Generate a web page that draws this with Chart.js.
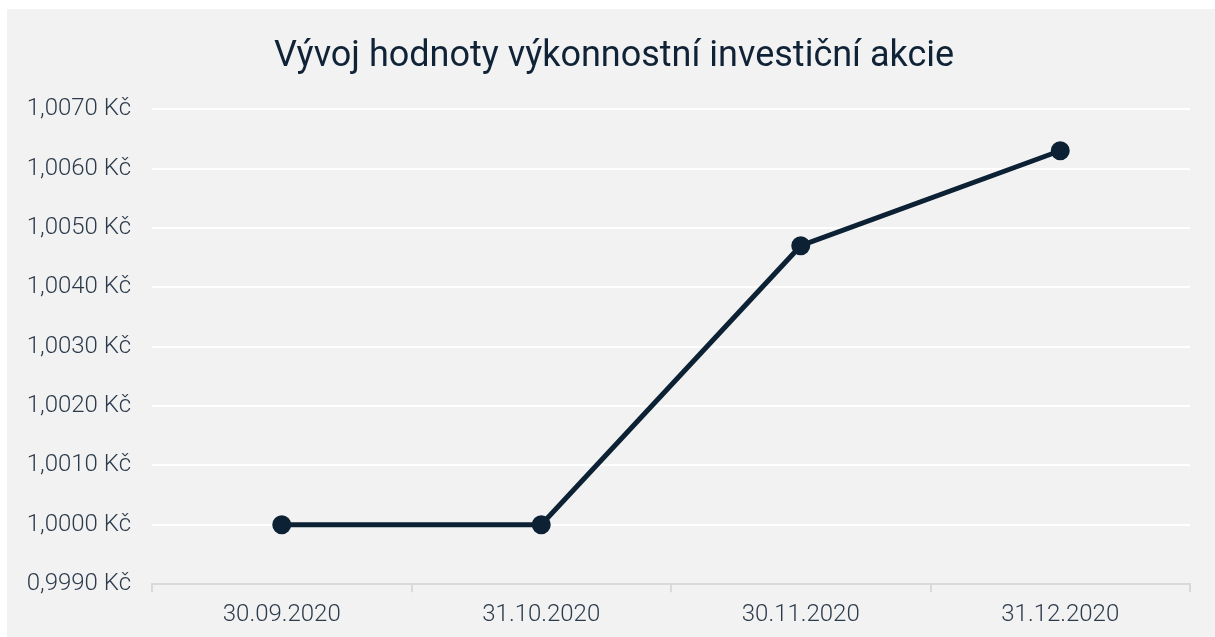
<!DOCTYPE html>
<html>
<head>
<meta charset="utf-8">
<script src="https://cdn.jsdelivr.net/npm/chart.js@4"></script>
<style>
  html, body { margin: 0; padding: 0; background: #ffffff; }
  #box { position: absolute; left: 7px; top: 9px; width: 1208px; height: 628px; background: #f2f2f2; }
</style>
</head>
<body>
<div id="box"><canvas id="akcie-chart"></canvas></div>
<script>
// Data grafu
const dates = ["30.09.2020", "31.10.2020", "30.11.2020", "31.12.2020"];
const values = [1.0000, 1.0000, 1.0047, 1.0063];
const yMin = 0.999;
const yMax = 1.007;
const yStep = 0.001;

const textColor = "#2c3b4b";
const lineColor = "#0d2135";

var ctx = document.getElementById("akcie-chart");

new Chart(ctx, {
  type: "line",
  data: {
    labels: dates,
    datasets: [{
      label: "Hodnota akcie",
      data: values,
      borderColor: lineColor,
      backgroundColor: lineColor,
      borderWidth: 5,
      pointRadius: 7,
      pointHoverRadius: 7,
      tension: 0,
      fill: false
    }]
  },
  options: {
    responsive: true,
    maintainAspectRatio: false,
    animation: false,
    layout: { padding: { left: 6, right: 0, top: 0, bottom: 0 } },
    plugins: {
      legend: { display: false },
      tooltip: { enabled: false },
      title: {
        display: true,
        text: "Vývoj hodnoty výkonnostní investiční akcie",
        color: "#0f2236",
        font: { family: "Roboto", size: 36, weight: "normal" },
        padding: { top: 26, bottom: 31 }
      }
    },
    scales: {
      x: {
        offset: true,
        grid: {
          offset: true,
          drawOnChartArea: false,
          drawTicks: true,
          tickLength: 8,
          color: "#d9d9d9",
          lineWidth: 2
        },
        border: { display: true, color: "#d9d9d9", width: 2 },
        ticks: {
          color: textColor,
          font: { family: "Roboto", size: 24, weight: 300 },
          padding: 8
        }
      },
      y: {
        min: yMin,
        max: yMax,
        afterFit: function (axis) { axis.width = 139; },
        grid: {
          color: "#ffffff",
          lineWidth: 2,
          drawTicks: false
        },
        border: { display: false },
        ticks: {
          stepSize: yStep,
          color: textColor,
          padding: 21,
          font: { family: "Roboto", size: 24, weight: 300 },
          callback: function (v) {
            return v.toFixed(4).replace(".", ",") + " Kč";
          }
        }
      },
      // prázdná osa vpravo jen kvůli okraji
      y2: {
        position: "right",
        afterFit: function (axis) { axis.width = 25; },
        grid: { display: false },
        border: { display: false },
        ticks: { display: false }
      }
    }
  }
});
</script>
</body>
</html>
